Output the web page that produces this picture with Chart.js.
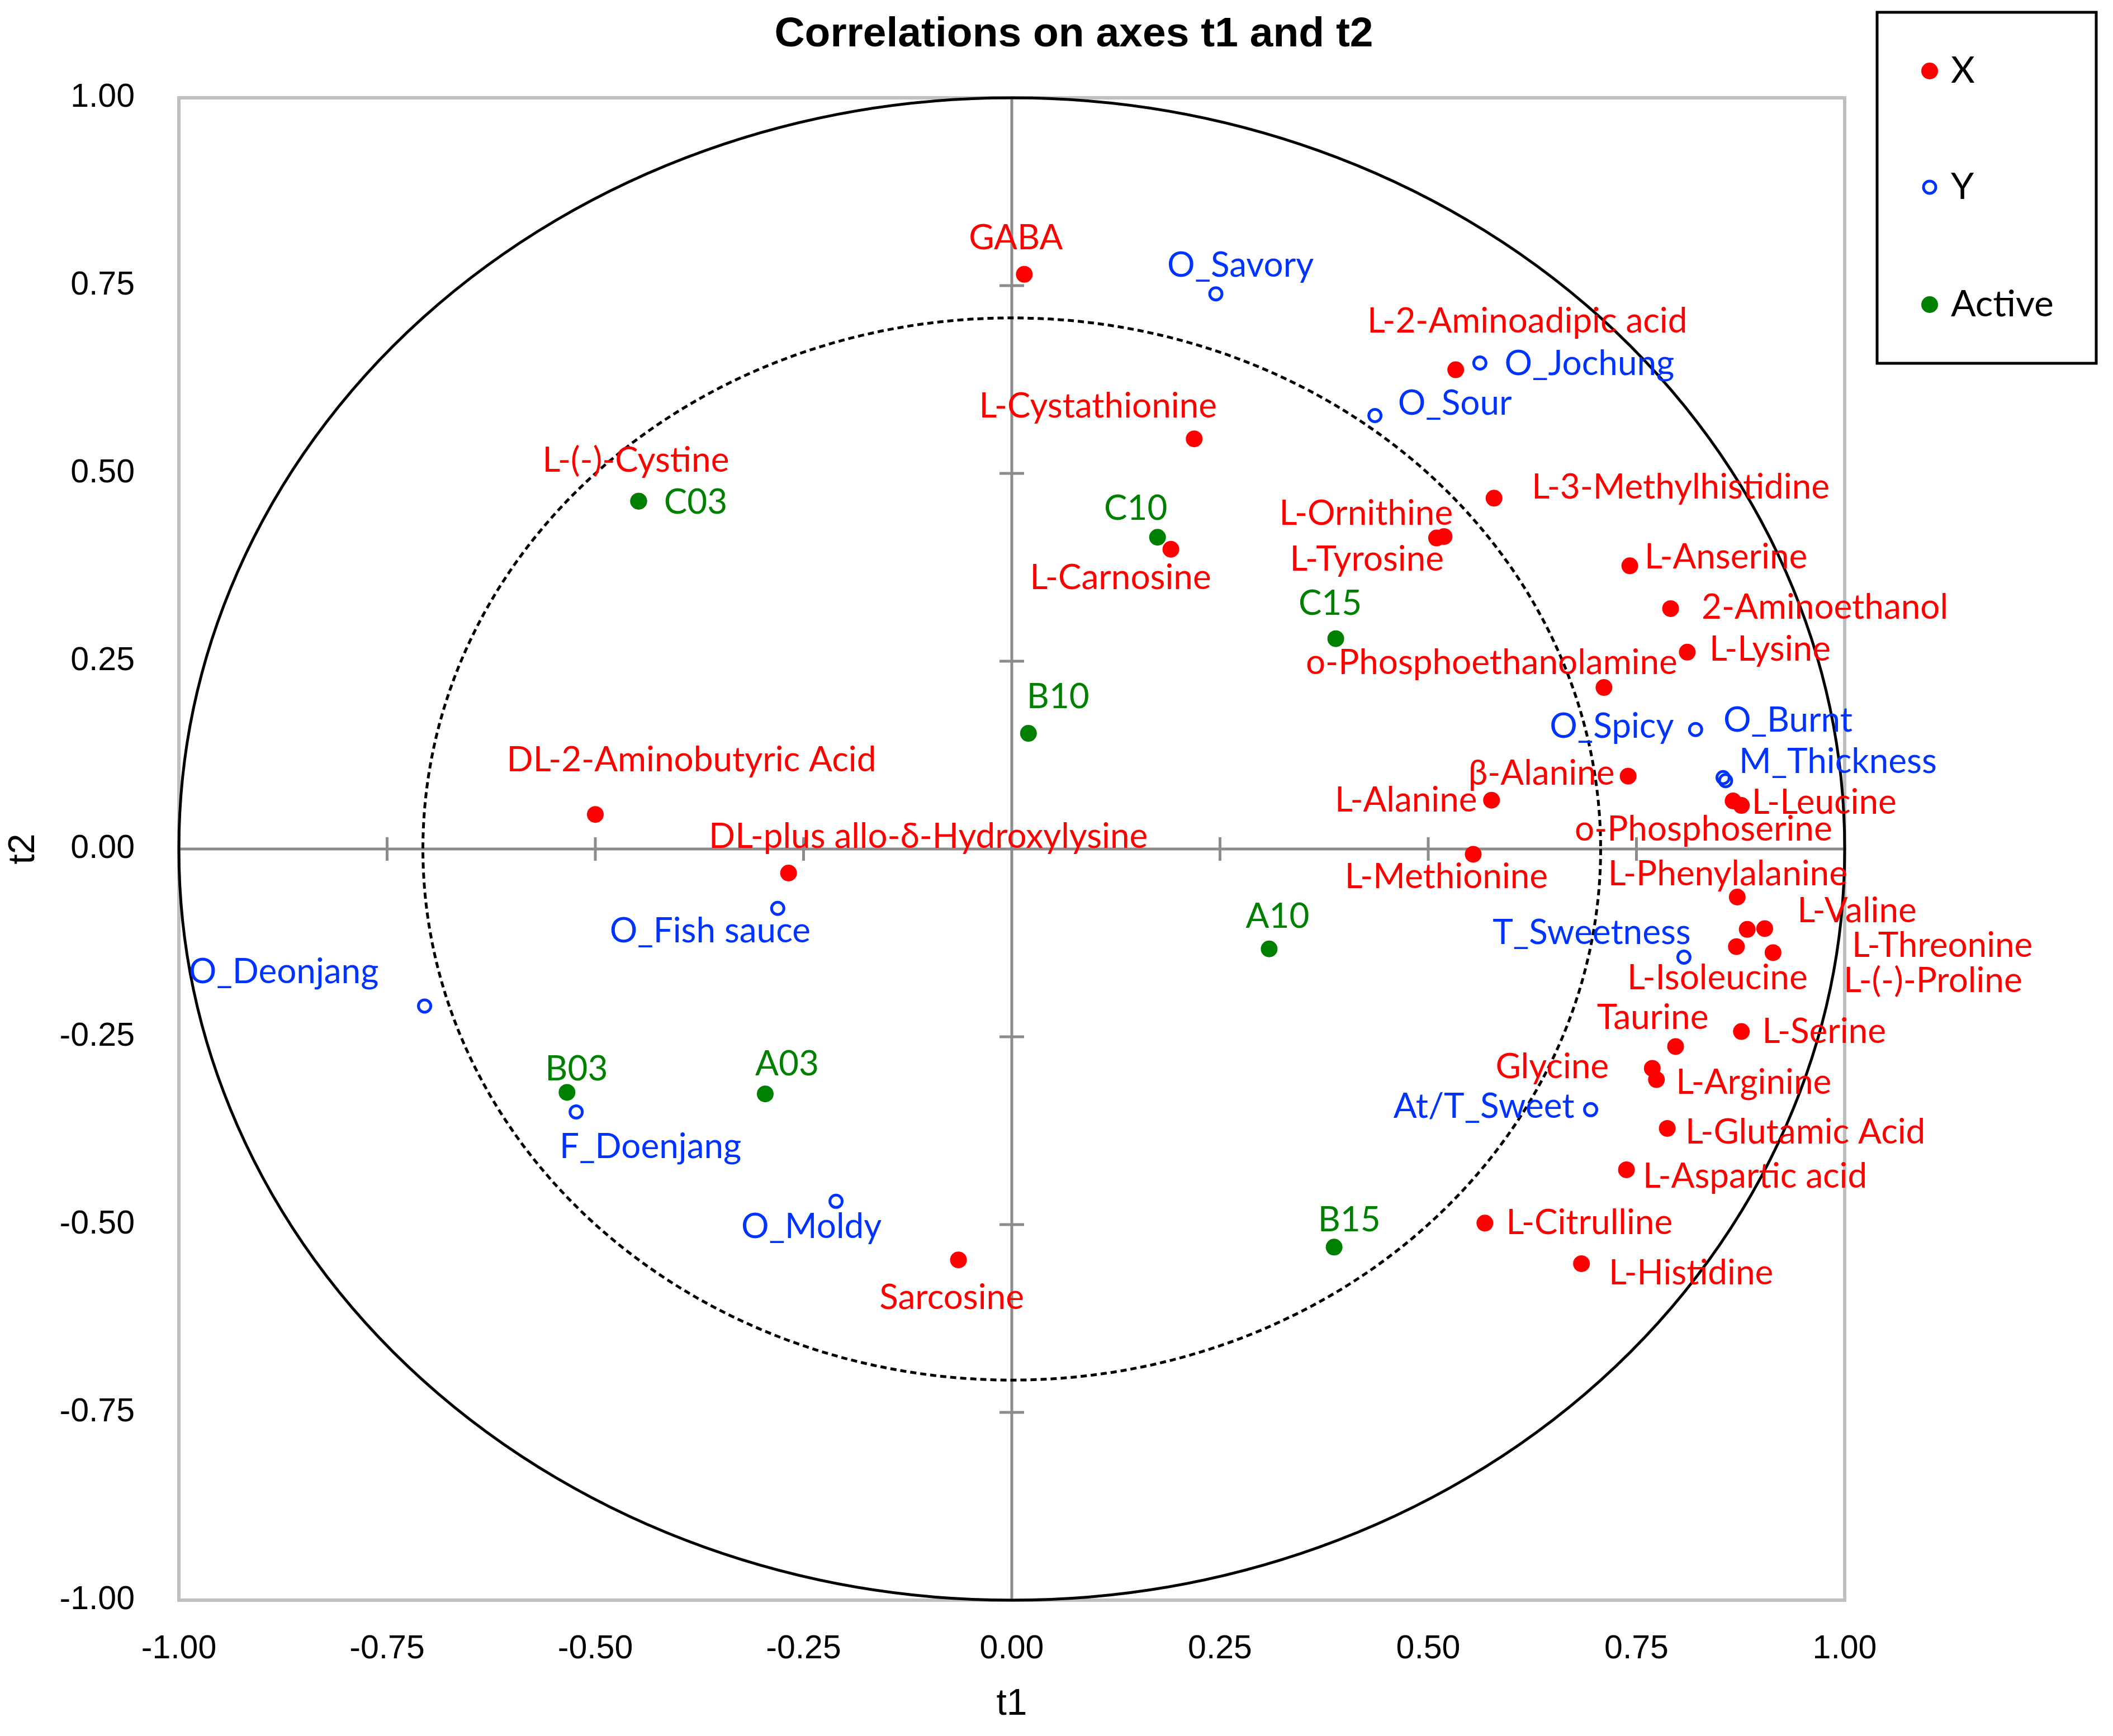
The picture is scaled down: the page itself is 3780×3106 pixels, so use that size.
<!DOCTYPE html>
<html>
<head>
<meta charset="utf-8">
<title>Correlations on axes t1 and t2</title>
<script src="https://cdn.jsdelivr.net/npm/chart.js@4.4.0/dist/chart.umd.min.js"></script>
<style>
  html, body { margin: 0; padding: 0; background: #fff; }
  canvas { display: block; }
</style>
</head>
<body>
<canvas id="corrChart" width="3780" height="3106" style="width:3780px;height:3106px"></canvas>
<script>
// tick values shared by both axes
const axisTicks = [-1, -0.75, -0.5, -0.25, 0, 0.25, 0.5, 0.75, 1];
const innerRadius = 0.707;

// X variables
const xNames = [
  "GABA", "L-2-Aminoadipic acid", "L-Cystathionine", "L-(-)-Cystine", "L-3-Methylhistidine",
  "L-Ornithine", "L-Tyrosine", "L-Carnosine", "L-Anserine", "2-Aminoethanol",
  "L-Lysine", "o-Phosphoethanolamine", "DL-2-Aminobutyric Acid", "β-Alanine", "L-Alanine",
  "L-Leucine", "o-Phosphoserine", "DL-plus allo-δ-Hydroxylysine", "L-Methionine", "L-Phenylalanine",
  "L-Valine", "L-Threonine", "L-Isoleucine", "L-(-)-Proline", "Taurine",
  "L-Serine", "Glycine", "L-Arginine", "L-Glutamic Acid", "L-Aspartic acid",
  "L-Citrulline", "L-Histidine", "Sarcosine"
];
const xT1 = [
  0.015, 0.533, 0.219, -0.448, 0.579,
  0.510, 0.519, 0.191, 0.742, 0.791,
  0.811, 0.711, -0.500, 0.740, 0.576,
  0.876, 0.866, -0.268, 0.554, 0.871,
  0.904, 0.883, 0.870, 0.914, 0.797,
  0.876, 0.769, 0.774, 0.787, 0.738,
  0.568, 0.684, -0.064
];
const xT2 = [
  0.765, 0.638, 0.546, 0.463, 0.467,
  0.414, 0.416, 0.399, 0.377, 0.320,
  0.262, 0.215, 0.046, 0.097, 0.065,
  0.058, 0.064, -0.032, -0.007, -0.064,
  -0.106, -0.107, -0.130, -0.138, -0.263,
  -0.243, -0.292, -0.307, -0.372, -0.427,
  -0.498, -0.552, -0.547
];

// Y variables (sensory)
const yNames = [
  "O_Savory", "O_Jochung", "O_Sour", "O_Spicy", "O_Burnt", "M_Thickness",
  "T_Sweetness", "At/T_Sweet", "O_Fish sauce", "O_Deonjang", "F_Doenjang", "O_Moldy"
];
const yT1 = [0.245, 0.562, 0.436, 0.821, 0.854, 0.857, 0.807, 0.695, -0.281, -0.705, -0.523, -0.211];
const yT2 = [0.739, 0.647, 0.577, 0.159, 0.095, 0.091, -0.144, -0.347, -0.079, -0.209, -0.350, -0.469];

// Active observations
const obsNames = ["C03", "C10", "C15", "B10", "A10", "B03", "A03", "B15"];
const obsT1 = [-0.448, 0.175, 0.389, 0.020, 0.309, -0.534, -0.296, 0.387];
const obsT2 = [0.463, 0.415, 0.280, 0.154, -0.133, -0.324, -0.326, -0.530];

// label offsets from each point, in pixels (layout only)
const xLabelOffsets = [
  [-15, -65], [128, -87], [-172, -58], [-5, -73], [334, -19],
  [-126, -44], [-138, 41], [-90, 51], [172, -15], [276, -2],
  [148, -5], [-201, -44], [172, -97], [-155, -5], [-153, 0],
  [148, -5], [-53, 51], [250, -65], [-48, 41], [-17, -41],
  [165, -31], [349, 29], [-34, 56], [286, 51], [-41, -51],
  [148, 0], [-179, -2], [174, 5], [247, 7], [230, 12],
  [187, 0], [196, 17], [-12, 68]
];
const yLabelOffsets = [
  [44, -51], [196, 2], [143, -22], [-150, -5], [116, -102], [201, -34],
  [-165, -44], [-191, -5], [-121, 41], [-252, -61], [133, 63], [-44, 46]
];
const obsLabelOffsets = [
  [102, 2], [-39, -51], [-10, -63], [53, -65], [15, -58], [17, -41], [39, -53], [27, -48]
];

const RED = "#ff0000";
const BLUE = "#0033ff";
const GREEN = "#008000";
const LABEL_FONT = "62px Lato";

function toPoints(t1, t2) {
  return t1.map((v, i) => ({ x: v, y: t2[i] }));
}

const decor = {
  id: "decor",
  beforeDatasetsDraw(chart) {
    const { ctx, chartArea: a, scales: { x, y } } = chart;
    const cx = x.getPixelForValue(0);
    const cy = y.getPixelForValue(0);
    const rx = x.getPixelForValue(1) - cx;
    const ry = cy - y.getPixelForValue(1);
    ctx.save();

    // plot frame
    ctx.strokeStyle = "#bfbfbf";
    ctx.lineWidth = 6;
    ctx.strokeRect(a.left, a.top, a.right - a.left, a.bottom - a.top);

    // axes through the origin with cross ticks
    ctx.strokeStyle = "#8c8c8c";
    ctx.lineWidth = 5;
    ctx.beginPath();
    ctx.moveTo(a.left, cy); ctx.lineTo(a.right, cy);
    ctx.moveTo(cx, a.top); ctx.lineTo(cx, a.bottom);
    axisTicks.forEach(v => {
      if (v === 0 || Math.abs(v) === 1) return;
      const px = x.getPixelForValue(v);
      const py = y.getPixelForValue(v);
      ctx.moveTo(px, cy - 21); ctx.lineTo(px, cy + 21);
      ctx.moveTo(cx - 22, py); ctx.lineTo(cx + 22, py);
    });
    ctx.stroke();

    // correlation circles
    ctx.strokeStyle = "#000";
    ctx.lineWidth = 5;
    ctx.beginPath();
    ctx.ellipse(cx, cy, rx, ry, 0, 0, Math.PI * 2);
    ctx.stroke();
    ctx.setLineDash([11, 7]);
    ctx.beginPath();
    ctx.ellipse(cx, cy, rx * innerRadius, ry * innerRadius, 0, 0, Math.PI * 2);
    ctx.stroke();
    ctx.restore();
  },
  afterDraw(chart) {
    const { ctx, scales: { x, y } } = chart;
    ctx.save();

    // point labels
    ctx.font = LABEL_FONT;
    ctx.textAlign = "center";
    ctx.textBaseline = "middle";
    const groups = [
      [0, xNames, xLabelOffsets, RED],
      [1, yNames, yLabelOffsets, BLUE],
      [2, obsNames, obsLabelOffsets, GREEN]
    ];
    groups.forEach(([idx, names, offs, color]) => {
      const meta = chart.getDatasetMeta(idx);
      ctx.fillStyle = color;
      meta.data.forEach((pt, i) => {
        ctx.fillText(names[i], pt.x + offs[i][0], pt.y + offs[i][1]);
      });
    });

    // title
    ctx.fillStyle = "#000";
    ctx.font = "bold 75px 'Liberation Sans'";
    ctx.fillText("Correlations on axes t1 and t2", 1921, 62);

    // axis titles
    ctx.font = "66px 'Liberation Sans'";
    ctx.fillText("t1", x.getPixelForValue(0), 3050);
    ctx.save();
    ctx.translate(43, y.getPixelForValue(0));
    ctx.rotate(-Math.PI / 2);
    ctx.fillText("t2", 0, 0);
    ctx.restore();

    // legend box
    ctx.strokeStyle = "#000";
    ctx.lineWidth = 5;
    ctx.strokeRect(3358, 22, 392, 628);
    const entries = [
      ["X", 127, RED, true],
      ["Y", 335, BLUE, false],
      ["Active", 545, GREEN, true]
    ];
    ctx.textAlign = "left";
    ctx.font = "66px Lato";
    entries.forEach(([txt, ly, color, filled]) => {
      ctx.beginPath();
      if (filled) {
        ctx.fillStyle = color;
        ctx.arc(3452, ly, 15, 0, Math.PI * 2);
        ctx.fill();
      } else {
        ctx.strokeStyle = color;
        ctx.lineWidth = 5;
        ctx.arc(3452, ly, 11, 0, Math.PI * 2);
        ctx.stroke();
      }
      ctx.fillStyle = "#000";
      ctx.fillText(txt, 3490, ly);
    });
    ctx.restore();
  }
};

const ctxEl = document.getElementById("corrChart").getContext("2d");

new Chart(ctxEl, {
  type: "scatter",
  data: {
    datasets: [
      {
        label: "X",
        data: toPoints(xT1, xT2),
        pointStyle: "circle",
        pointRadius: 15,
        backgroundColor: RED,
        borderColor: RED,
        borderWidth: 0,
        order: 2
      },
      {
        label: "Y",
        data: toPoints(yT1, yT2),
        pointStyle: "circle",
        pointRadius: 11,
        backgroundColor: "rgba(0,0,0,0)",
        borderColor: BLUE,
        borderWidth: 5,
        order: 1
      },
      {
        label: "Active",
        data: toPoints(obsT1, obsT2),
        pointStyle: "circle",
        pointRadius: 15,
        backgroundColor: GREEN,
        borderColor: GREEN,
        borderWidth: 0,
        order: 0
      }
    ]
  },
  options: {
    responsive: false,
    devicePixelRatio: 1,
    animation: false,
    layout: { padding: { left: 0, top: 175, right: 480, bottom: 0 } },
    plugins: {
      legend: { display: false },
      tooltip: { enabled: false },
      title: { display: false }
    },
    scales: {
      x: {
        type: "linear",
        min: -1,
        max: 1,
        afterBuildTicks: s => { s.ticks = axisTicks.map(v => ({ value: v })); },
        afterFit: s => { s.height = 3106 - 2863; },
        grid: { display: false, drawTicks: false },
        border: { display: false },
        ticks: {
          padding: 52,
          color: "#000",
          font: { family: "'Liberation Sans'", size: 59 },
          callback: v => v.toFixed(2)
        }
      },
      y: {
        type: "linear",
        min: -1,
        max: 1,
        afterBuildTicks: s => { s.ticks = axisTicks.map(v => ({ value: v })); },
        afterFit: s => { s.width = 320; },
        grid: { display: false, drawTicks: false },
        border: { display: false },
        ticks: {
          padding: 79,
          color: "#000",
          font: { family: "'Liberation Sans'", size: 59 },
          callback: v => v.toFixed(2)
        }
      }
    }
  },
  plugins: [decor]
});
</script>
</body>
</html>
